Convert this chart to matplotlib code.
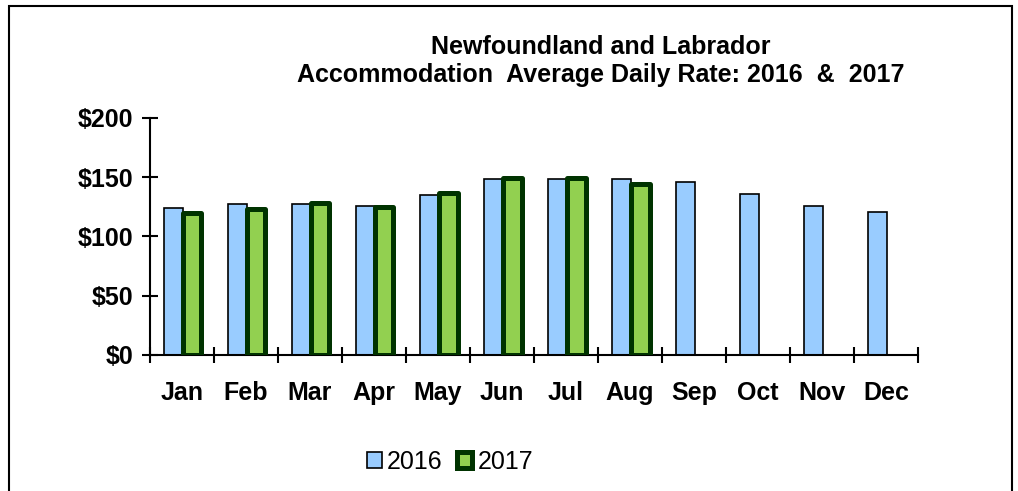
import matplotlib
matplotlib.use("Agg")
import matplotlib.pyplot as plt
from matplotlib.patches import Rectangle
import numpy as np

months = ['Jan', 'Feb', 'Mar', 'Apr', 'May', 'Jun',
          'Jul', 'Aug', 'Sep', 'Oct', 'Nov', 'Dec']
rate_2016 = [124, 127, 127, 126, 135, 148, 148, 148, 146, 136, 126, 121]
rate_2017 = [120, 123, 128, 125, 137, 149, 149, 144, np.nan, np.nan, np.nan, np.nan]
y_ticks = [0, 50, 100, 150, 200]
y_labels = ['$0', '$50', '$100', '$150', '$200']

plt.rcParams['font.family'] = ['Liberation Sans', 'DejaVu Sans']

fig = plt.figure(figsize=(10.18, 4.91), dpi=100)
ax = fig.add_axes([0.1473, 0.277, 0.7545, 0.483])

x = np.arange(len(months))
w = 0.29
ax.bar(x - 0.13, rate_2016, width=w, color='#99CCFF', edgecolor='black',
       linewidth=1.2, zorder=2, label='2016')
ax.bar(x + 0.16, rate_2017, width=w, color='#92D050', edgecolor='#003300',
       linewidth=3.6, joinstyle='round', zorder=3, label='2017')

ax.set_xlim(-0.5, 11.5)
ax.set_ylim(0, 200)
ax.set_yticks(y_ticks)
ax.set_yticklabels(y_labels, fontsize=18, fontweight='bold')
ax.set_xticks(x)
ax.set_xticklabels(months, fontsize=18, fontweight='bold')
ax.set_xticks(np.arange(-0.5, 12, 1), minor=True)

ax.tick_params(axis='x', which='major', length=0, pad=19)
ax.tick_params(axis='x', which='minor', direction='inout', length=12, width=1.5)
ax.tick_params(axis='y', direction='inout', length=12, width=1.5, pad=6)

for s in ['top', 'right']:
    ax.spines[s].set_visible(False)
for s in ['left', 'bottom']:
    ax.spines[s].set_linewidth(1.5)

fig.text(0.59, 0.876, 'Newfoundland and Labrador\nAccommodation  Average Daily Rate: 2016  &  2017',
         ha='center', va='center', fontsize=18, fontweight='bold', linespacing=1.2)

leg = fig.legend(loc='center', bbox_to_anchor=(0.442, 0.059), ncol=2, frameon=False,
                 fontsize=18, handlelength=0.6, handleheight=0.6,
                 handletextpad=0.2, columnspacing=0.6)

fig.patches.append(Rectangle((0.0088, -0.05), 0.985, 1.038, transform=fig.transFigure,
                             fill=False, edgecolor='black', linewidth=1.5))

fig.savefig('out.png', dpi=100)
